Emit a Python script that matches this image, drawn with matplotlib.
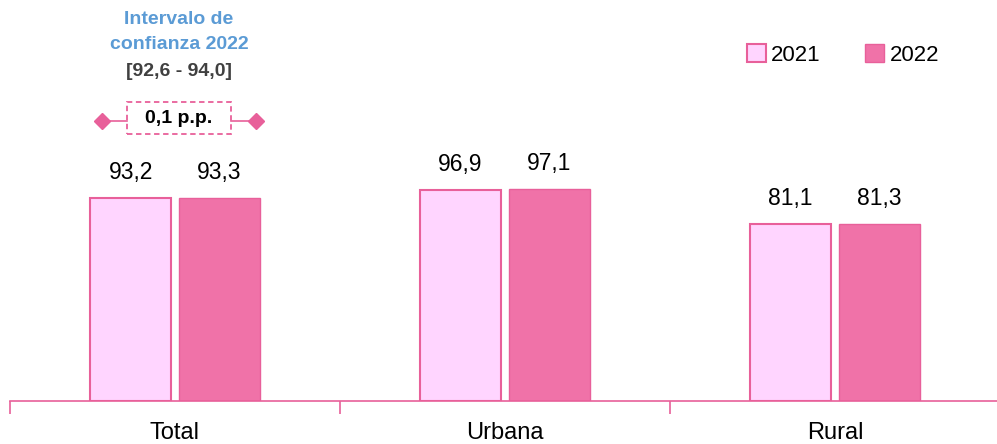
import matplotlib.pyplot as plt
from matplotlib.patches import Rectangle, Patch

plt.rcParams['font.family'] = ['Liberation Sans', 'DejaVu Sans']

categories = ['Total', 'Urbana', 'Rural']
vals_2021 = [93.2, 96.9, 81.1]
vals_2022 = [93.3, 97.1, 81.3]
labels_2021 = ['93,2', '96,9', '81,1']
labels_2022 = ['93,3', '97,1', '81,3']
series = ['2021', '2022']

c21_fill = '#FFD5FF'
c22_fill = '#F072A8'
edge = '#E8609A'

fig = plt.figure(figsize=(9.97, 4.44), dpi=100)
ax = fig.add_axes([10 / 997, 43 / 444, 990 / 997, 401 / 444])

w = 0.245
off = 0.1345
x = range(len(categories))
for i in x:
    ax.bar(i - off, vals_2021[i], w, color=c21_fill, edgecolor=edge, linewidth=1.5)
    ax.bar(i + off, vals_2022[i], w, color=c22_fill, edgecolor=edge, linewidth=1.0)
    ax.text(i - off, vals_2021[i] + 6.5, labels_2021[i], ha='center', va='bottom', fontsize=16.5)
    ax.text(i + off, vals_2022[i] + 6.5, labels_2022[i], ha='center', va='bottom', fontsize=16.5)

ax.set_xlim(-0.5, 2.5)
ax.set_ylim(0, 184)
ax.set_yticks([])
for s in ['top', 'right', 'left']:
    ax.spines[s].set_visible(False)
ax.spines['bottom'].set_color(edge)
ax.spines['bottom'].set_linewidth(1.2)
ax.set_xticks([-0.5, 0.5, 1.5, 2.5])
ax.set_xticklabels([])
ax.tick_params(axis='x', length=9, color=edge, width=1.2, direction='out')
for i, c in enumerate(categories):
    ax.text(i, -9.5, c, ha='center', va='top', fontsize=17)

# confidence interval annotation
cx = 0.012
ax.text(cx, 175, 'Intervalo de', ha='center', va='center', fontsize=14,
        fontweight='bold', color='#5B9BD5')
ax.text(cx, 163.5, 'confianza 2022', ha='center', va='center', fontsize=14,
        fontweight='bold', color='#5B9BD5')
ax.text(cx, 151, '[92,6 - 94,0]', ha='center', va='center', fontsize=14,
        fontweight='bold', color='#404040')
ax.add_patch(Rectangle((cx - 0.158, 122.3), 0.316, 15, fill=False, edgecolor=edge,
                       linestyle=(0, (3, 2)), linewidth=1.3))
ax.text(cx, 129.5, '0,1 p.p.', ha='center', va='center', fontsize=14, fontweight='bold')
ax.plot([cx - 0.233, cx - 0.158], [128.5, 128.5], color=edge, linewidth=1.2)
ax.plot([cx + 0.158, cx + 0.233], [128.5, 128.5], color=edge, linewidth=1.2)
ax.plot([cx - 0.233, cx + 0.233], [128.5, 128.5], linestyle='none', marker='D',
        markersize=8, color=edge)

handles = [Patch(facecolor=c21_fill, edgecolor=edge, linewidth=1.5),
           Patch(facecolor=c22_fill, edgecolor=edge, linewidth=1.0)]
ax.legend(handles, series, loc='center', bbox_to_anchor=(833 / 990, 1 - 55 / 401),
          ncol=2, frameon=False, fontsize=16, handlelength=0.85, handleheight=0.85,
          handletextpad=0.25, columnspacing=2.0)

fig.savefig('out.png', dpi=100)
